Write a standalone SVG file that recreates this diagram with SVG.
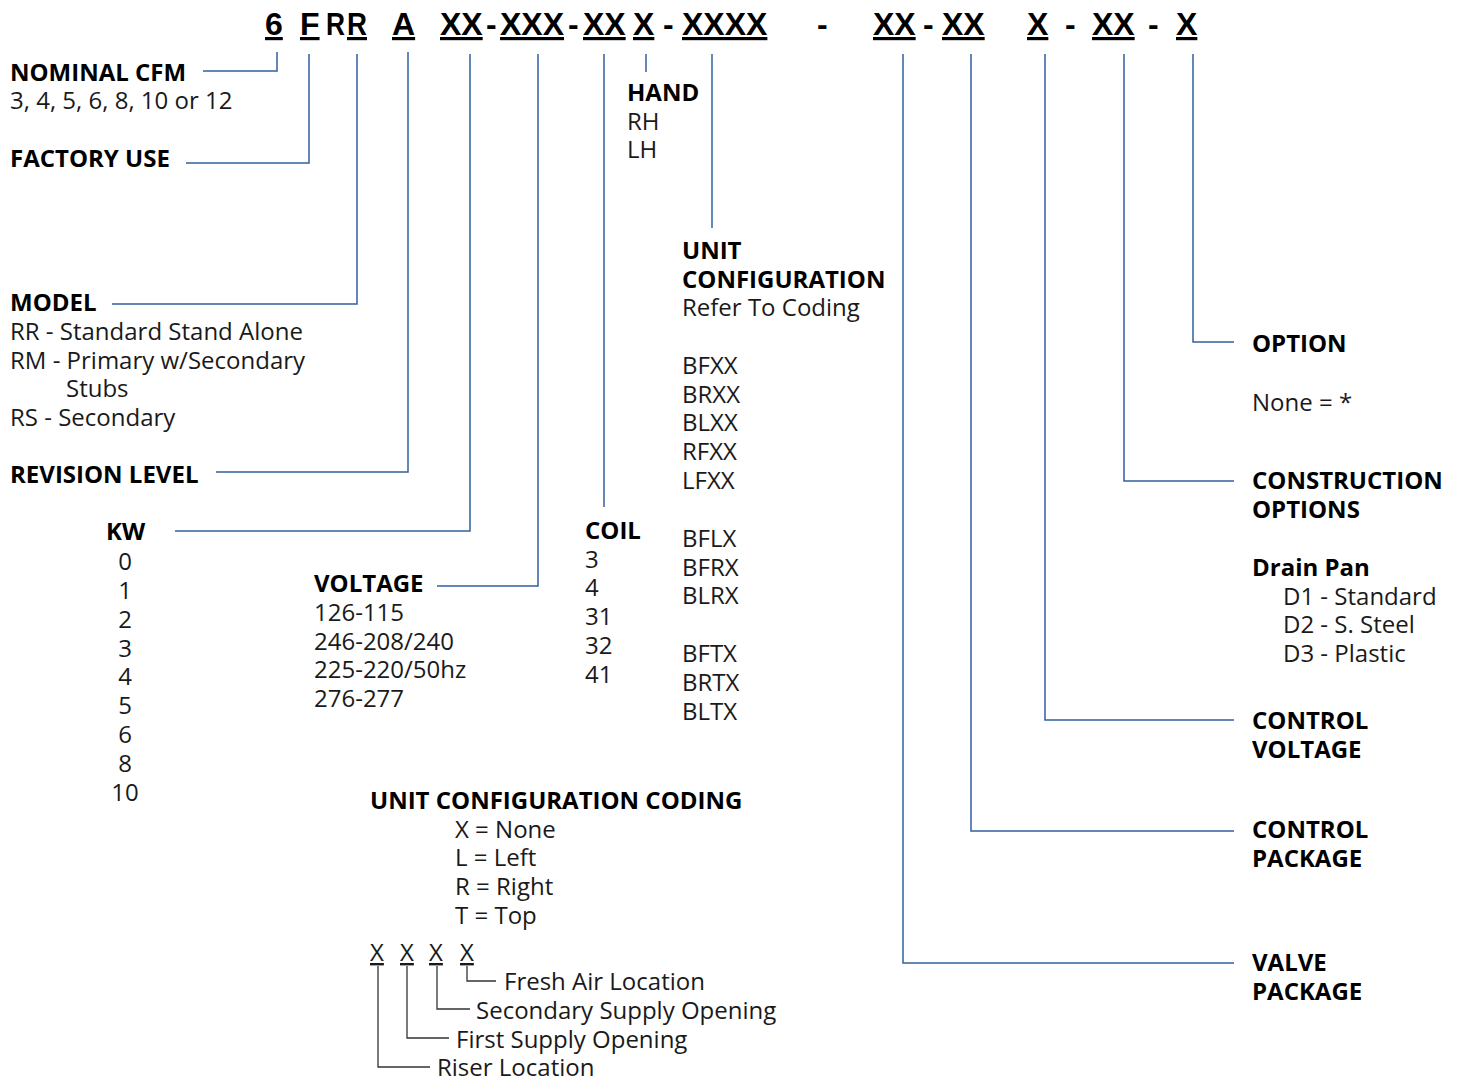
<svg xmlns="http://www.w3.org/2000/svg" width="1458" height="1081" viewBox="0 0 1458 1081">
<style>
.hd{font-family:"Liberation Sans",Arial,sans-serif;font-weight:bold;font-size:32px;fill:#000}
.u{text-decoration:underline}
.t{font-family:"Open Sans","DejaVu Sans",sans-serif;font-size:24px;fill:#1a1a1a}
.b{font-weight:bold;fill:#000}
.ln{fill:none;stroke:#33609f;stroke-width:1.5}
.cl{fill:none;stroke:#333;stroke-width:1.3}
</style>
<rect width="1458" height="1081" fill="#fff"/>
<g id="header">
<text class="hd u" x="265" y="35">6</text>
<text class="hd u" x="300" y="35">F</text>
<text class="hd" x="326" y="35" textLength="19" lengthAdjust="spacingAndGlyphs">R</text>
<text class="hd u" x="347" y="35" textLength="20" lengthAdjust="spacingAndGlyphs">R</text>
<text class="hd u" x="392" y="35">A</text>
<text class="hd u" x="440" y="35">XX</text>
<text class="hd" x="486" y="35">-</text>
<text class="hd u" x="500" y="35">XXX</text>
<text class="hd" x="568" y="35">-</text>
<text class="hd u" x="583" y="35">XX</text>
<text class="hd u" x="633" y="35">X</text>
<text class="hd" x="663" y="35">-</text>
<text class="hd u" x="682" y="35">XXXX</text>
<text class="hd" x="817" y="35">-</text>
<text class="hd u" x="873" y="35">XX</text>
<text class="hd" x="923" y="35">-</text>
<text class="hd u" x="942" y="35">XX</text>
<text class="hd u" x="1027" y="35">X</text>
<text class="hd" x="1065" y="35">-</text>
<text class="hd u" x="1092" y="35">XX</text>
<text class="hd" x="1148" y="35">-</text>
<text class="hd u" x="1176" y="35">X</text>
</g>
<g id="connectors">
<path class="ln" d="M277,52 V71 H203"/>
<path class="ln" d="M309,54 V163 H186"/>
<path class="ln" d="M357,54 V304 H112"/>
<path class="ln" d="M408,52 V472 H216"/>
<path class="ln" d="M470,54 V531 H175"/>
<path class="ln" d="M538,54 V586 H437"/>
<path class="ln" d="M604,54 V507"/>
<path class="ln" d="M646,54 V72"/>
<path class="ln" d="M712,54 V228"/>
<path class="ln" d="M903,54 V963 H1234"/>
<path class="ln" d="M971,54 V831 H1234"/>
<path class="ln" d="M1045,54 V720 H1234"/>
<path class="ln" d="M1124,54 V481 H1234"/>
<path class="ln" d="M1193,54 V342 H1234"/>
<path class="cl" d="M378,966 V1067 H430"/>
<path class="cl" d="M407,966 V1038 H449"/>
<path class="cl" d="M437,966 V1009 H470"/>
<path class="cl" d="M467,966 V981 H496"/>
</g>
<g id="nominal-cfm">
<text class="t b" x="10" y="81">NOMINAL CFM</text>
<text class="t" x="10" y="109">3, 4, 5, 6, 8, 10 or 12</text>
</g>
<g id="factory-use">
<text class="t b" x="10" y="167">FACTORY USE</text>
</g>
<g id="model">
<text class="t b" x="10" y="311">MODEL</text>
<text class="t" x="10" y="340">RR - Standard Stand Alone</text>
<text class="t" x="10" y="369">RM - Primary w/Secondary</text>
<text class="t" x="66" y="397">Stubs</text>
<text class="t" x="10" y="426">RS - Secondary</text>
</g>
<g id="revision-level">
<text class="t b" x="10" y="483">REVISION LEVEL</text>
</g>
<g id="kw">
<text class="t b" x="106" y="540">KW</text>
<g text-anchor="middle">
<text class="t" x="125" y="570">0</text>
<text class="t" x="125" y="599">1</text>
<text class="t" x="125" y="628">2</text>
<text class="t" x="125" y="657">3</text>
<text class="t" x="125" y="685">4</text>
<text class="t" x="125" y="714">5</text>
<text class="t" x="125" y="743">6</text>
<text class="t" x="125" y="772">8</text>
<text class="t" x="125" y="801">10</text>
</g>
</g>
<g id="voltage">
<text class="t b" x="314" y="592">VOLTAGE</text>
<text class="t" x="314" y="621">126-115</text>
<text class="t" x="314" y="650">246-208/240</text>
<text class="t" x="314" y="678">225-220/50hz</text>
<text class="t" x="314" y="707">276-277</text>
</g>
<g id="coil">
<text class="t b" x="585" y="539">COIL</text>
<text class="t" x="585" y="568">3</text>
<text class="t" x="585" y="596">4</text>
<text class="t" x="585" y="625">31</text>
<text class="t" x="585" y="654">32</text>
<text class="t" x="585" y="683">41</text>
</g>
<g id="hand">
<text class="t b" x="627" y="101">HAND</text>
<text class="t" x="627" y="130">RH</text>
<text class="t" x="627" y="158">LH</text>
</g>
<g id="unit-configuration">
<text class="t b" x="682" y="259">UNIT</text>
<text class="t b" x="682" y="288">CONFIGURATION</text>
<text class="t" x="682" y="316">Refer To Coding</text>
<text class="t" x="682" y="374">BFXX</text>
<text class="t" x="682" y="403">BRXX</text>
<text class="t" x="682" y="431">BLXX</text>
<text class="t" x="682" y="460">RFXX</text>
<text class="t" x="682" y="489">LFXX</text>
<text class="t" x="682" y="547">BFLX</text>
<text class="t" x="682" y="576">BFRX</text>
<text class="t" x="682" y="604">BLRX</text>
<text class="t" x="682" y="662">BFTX</text>
<text class="t" x="682" y="691">BRTX</text>
<text class="t" x="682" y="720">BLTX</text>
</g>
<g id="option">
<text class="t b" x="1252" y="352">OPTION</text>
<text class="t" x="1252" y="411">None = *</text>
</g>
<g id="construction-options">
<text class="t b" x="1252" y="489">CONSTRUCTION</text>
<text class="t b" x="1252" y="518">OPTIONS</text>
<text class="t b" x="1252" y="576">Drain Pan</text>
<text class="t" x="1283" y="605">D1 - Standard</text>
<text class="t" x="1283" y="633">D2 - S. Steel</text>
<text class="t" x="1283" y="662">D3 - Plastic</text>
</g>
<g id="control-voltage">
<text class="t b" x="1252" y="729">CONTROL</text>
<text class="t b" x="1252" y="758">VOLTAGE</text>
</g>
<g id="control-package">
<text class="t b" x="1252" y="838">CONTROL</text>
<text class="t b" x="1252" y="867">PACKAGE</text>
</g>
<g id="valve-package">
<text class="t b" x="1252" y="971">VALVE</text>
<text class="t b" x="1252" y="1000">PACKAGE</text>
</g>
<g id="coding">
<text class="t b" x="370" y="809">UNIT CONFIGURATION CODING</text>
<text class="t" x="455" y="838">X = None</text>
<text class="t" x="455" y="866">L = Left</text>
<text class="t" x="455" y="895">R = Right</text>
<text class="t" x="455" y="924">T = Top</text>
<text class="t u" x="370" y="961">X</text>
<text class="t u" x="400" y="961">X</text>
<text class="t u" x="429" y="961">X</text>
<text class="t u" x="460" y="961">X</text>
<text class="t" x="504" y="990">Fresh Air Location</text>
<text class="t" x="476" y="1019">Secondary Supply Opening</text>
<text class="t" x="456" y="1048">First Supply Opening</text>
<text class="t" x="437" y="1076">Riser Location</text>
</g>
</svg>
